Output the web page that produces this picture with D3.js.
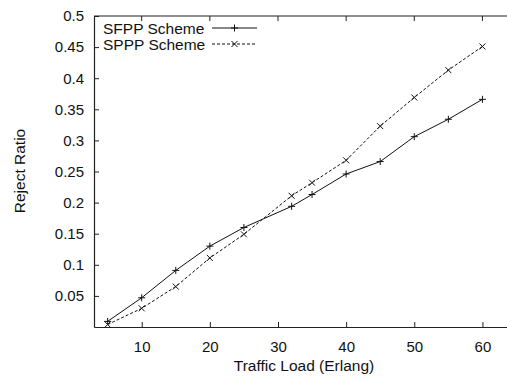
<!DOCTYPE html>
<html>
<head>
<meta charset="utf-8">
<script src="https://cdn.jsdelivr.net/npm/d3@7"></script>
<style>
  html, body { margin: 0; padding: 0; background: #fff; overflow: hidden; }
  svg { display: block; }
  text { font-family: "Liberation Sans", Arial, sans-serif; }
</style>
</head>
<body>
<div id="plot"></div>
<script>
// traffic load (Erlang) and reject ratio per scheme
const loads = [5, 10, 15, 20, 25, 32, 35, 40, 45, 50, 55, 60];
const sfpp = [0.009, 0.047, 0.091, 0.130, 0.160, 0.194, 0.213, 0.246, 0.266, 0.306, 0.334, 0.366];
const sppp = [0.004, 0.030, 0.065, 0.111, 0.149, 0.211, 0.232, 0.268, 0.323, 0.369, 0.413, 0.451];
const xTicks = [10, 20, 30, 40, 50, 60];
const yTicks = [0.05, 0.1, 0.15, 0.2, 0.25, 0.3, 0.35, 0.4, 0.45, 0.5];

const w = 507;
const h = 380;
const margin = {top: 16, right: -2, bottom: 53, left: 94};
const innerWidth = w - margin.left - margin.right;
const innerHeight = h - margin.top - margin.bottom;

const xScale = d3.scaleLinear()
    .domain([3, 63.9])
    .range([0, innerWidth]);

const yScale = d3.scaleLinear()
    .domain([0, 0.5])
    .range([innerHeight, 0]);

const svg = d3.select("#plot")
  .append("svg")
    .attr("width", w)
    .attr("height", h);

const g = svg.append("g")
    .attr("transform", `translate(${margin.left}, ${margin.top})`);

// axes with inward ticks
const xAxis = d3.axisBottom(xScale).tickValues(xTicks).tickSizeInner(-5).tickSizeOuter(0).tickPadding(14);
const yAxis = d3.axisLeft(yScale).tickValues(yTicks).tickSizeInner(-5).tickSizeOuter(0).tickPadding(10)
    .tickFormat(d => String(+d.toFixed(2)));

g.append("g")
    .attr("class", "xAxis")
    .attr("transform", `translate(0, ${innerHeight})`)
    .call(xAxis);

g.append("g")
    .attr("class", "yAxis")
    .call(yAxis);

// top border with mirror ticks
const topEdge = g.append("g").attr("class", "xTop");
topEdge.append("line")
    .attr("x1", 0).attr("x2", innerWidth)
    .attr("y1", 0).attr("y2", 0)
    .attr("stroke", "#222").attr("stroke-width", 1.2);
topEdge.selectAll("line.tk")
  .data(xTicks)
  .join("line")
    .attr("class", "tk")
    .attr("x1", d => xScale(d)).attr("x2", d => xScale(d))
    .attr("y1", 0).attr("y2", 5)
    .attr("stroke", "#222");

g.selectAll(".domain").attr("stroke", "#222").attr("stroke-width", 1.2);
g.selectAll(".tick line").attr("stroke", "#222");
g.selectAll(".tick text").attr("font-size", 15).attr("fill", "#111")
    .attr("font-family", "Liberation Sans, Arial, sans-serif");

// series lines
const series = [
  {name: "SFPP Scheme", values: sfpp, dash: null, marker: "plus"},
  {name: "SPPP Scheme", values: sppp, dash: "3,2", marker: "cross"}
];

const line = d3.line()
    .x(d => xScale(d[0]))
    .y(d => yScale(d[1]));

function drawMarker(sel, type, x, y) {
  const s = type === "plus" ? 3.5 : 3;
  const p = type === "plus"
    ? `M${x - s},${y}H${x + s}M${x},${y - s}V${y + s}`
    : `M${x - s},${y - s}L${x + s},${y + s}M${x - s},${y + s}L${x + s},${y - s}`;
  sel.append("path").attr("d", p).attr("stroke", "#111").attr("stroke-width", 1).attr("fill", "none");
}

series.forEach(s => {
  const pts = loads.map((x, i) => [x, s.values[i]]);
  g.append("path")
      .datum(pts)
      .attr("d", line)
      .attr("fill", "none")
      .attr("stroke", "#111")
      .attr("stroke-width", 1)
      .attr("stroke-dasharray", s.dash);
  const mk = g.append("g");
  pts.forEach(p => drawMarker(mk, s.marker, xScale(p[0]), yScale(p[1])));
});

// legend
const legend = svg.append("g").attr("transform", "translate(103, 0)");
series.forEach((s, i) => {
  const cy = 28 + i * 16;
  legend.append("text")
      .attr("x", 0)
      .attr("y", cy + 5.5)
      .attr("font-size", 15.5)
      .attr("fill", "#111")
      .text(s.name);
  legend.append("line")
      .attr("x1", 109).attr("x2", 154)
      .attr("y1", cy).attr("y2", cy)
      .attr("stroke", "#111")
      .attr("stroke-dasharray", s.dash);
  drawMarker(legend, s.marker, 131.5, cy);
});

// axis labels
svg.append("text")
    .attr("x", 304)
    .attr("y", 371)
    .attr("text-anchor", "middle")
    .attr("font-size", 15.5)
    .attr("fill", "#111")
    .text("Traffic Load (Erlang)");

svg.append("text")
    .attr("transform", "translate(25, 171) rotate(-90)")
    .attr("text-anchor", "middle")
    .attr("font-size", 15.5)
    .attr("fill", "#111")
    .text("Reject Ratio");
</script>
</body>
</html>
